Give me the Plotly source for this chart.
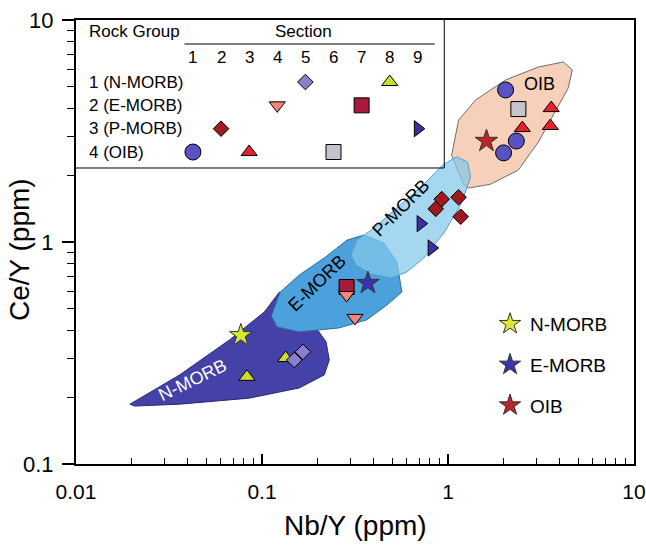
import numpy as np
import plotly.graph_objects as go

# ---------------- data (Nb/Y, Ce/Y) ----------------
# section markers
s1_nb = [2.04, 2.33, 1.99];            s1_ce = [4.84, 2.85, 2.52]          # circle
s2_nb = [0.925, 0.859, 1.14, 1.17];    s2_ce = [1.56, 1.41, 1.59, 1.30]    # dark red diamond
s3_nb = [2.51, 3.59, 3.55];            s3_ce = [3.26, 4.01, 3.33]          # red triangle
s4_nb = [0.285, 0.316];                s4_ce = [0.577, 0.455]              # pink triangle-down
s5_nb = [0.149, 0.166];                s5_ce = [0.294, 0.320]              # lavender diamond
s6_nb = [2.39];                        s6_ce = [3.97]                      # grey square
s7_nb = [0.285];                       s7_ce = [0.627]                     # crimson square
s8_nb = [0.083, 0.134];                s8_ce = [0.247, 0.300]              # yellow triangle
s9_nb = [0.713, 0.817];                s9_ce = [1.21, 0.94]                # blue triangle-right

# reference compositions (stars)
ref_names = ["N-MORB", "E-MORB", "OIB"]
ref_nb = [0.077, 0.371, 1.61]
ref_ce = [0.380, 0.653, 2.85]

# field polygons
nmorb_nb = [0.0195, 0.0361, 0.0668, 0.103, 0.124, 0.1436, 0.1905, 0.221, 0.230, 0.216, 0.1585, 0.0855, 0.0361, 0.0207]
nmorb_ce = [0.186, 0.252, 0.362, 0.484, 0.595, 0.571, 0.423, 0.355, 0.294, 0.252, 0.220, 0.198, 0.186, 0.1824]
emorb_nb = [0.1122, 0.1253, 0.1585, 0.216, 0.2864, 0.353, 0.452, 0.531, 0.565, 0.469, 0.366, 0.259, 0.1585, 0.1208]
emorb_ce = [0.464, 0.595, 0.710, 0.847, 1.02, 1.075, 0.99, 0.813, 0.595, 0.520, 0.446, 0.410, 0.394, 0.414]
pmorb_nb = [0.301, 0.324, 0.400, 0.545, 0.741, 0.935, 1.112, 1.274, 1.322, 1.183, 0.959, 0.741, 0.601, 0.499, 0.386, 0.320]
pmorb_ce = [0.874, 1.02, 1.156, 1.45, 1.82, 2.22, 2.42, 2.29, 1.96, 1.50, 1.11, 0.847, 0.733, 0.689, 0.718, 0.788]
oib_nb = [1.213, 1.046, 1.140, 1.406, 2.04, 3.06, 4.17, 4.66, 4.43, 3.82, 3.06, 2.39, 1.69, 1.29]
oib_ce = [1.82, 2.46, 3.54, 4.36, 5.37, 6.14, 6.47, 5.96, 4.94, 3.94, 2.82, 2.11, 1.82, 1.75]

# field labels
field_names = ["N-MORB", "E-MORB", "P-MORB", "OIB"]
field_lab_nb = [0.0424, 0.198, 0.557, 3.10]
field_lab_ce = [0.239, 0.653, 1.42, 5.15]
field_lab_angle = [-26, -44, -45, 0]
field_lab_color = ["white", "black", "black", "black"]

# inset table
section_labels = ["1", "2", "3", "4", "5", "6", "7", "8", "9"]
group_labels = ["1 (N-MORB)", "2 (E-MORB)", "3 (P-MORB)", "4 (OIB)"]
section_group = [4, 3, 4, 2, 1, 4, 2, 1, 3]   # rock group of sections 1..9

# axis ticks / titles
x_tickvals = [0.01, 0.1, 1, 10]; x_ticktext = ["0.01", "0.1", "1", "10"]
y_tickvals = [0.1, 1, 10];       y_ticktext = ["0.1", "1", "10"]
x_title = "Nb/Y (ppm)"
y_title = "Ce/Y (ppm)"

# ---------------- styles ----------------
FONT = "Liberation Sans, Arial, sans-serif"
sec_symbol = ["circle", "diamond", "triangle-up", "triangle-down", "diamond",
              "square", "square", "triangle-up", "triangle-right"]
sec_color = ["#5b52c2", "#9e1a1e", "#e8202a", "#f4847c", "#8c7dc9",
             "#c4c5cc", "#a8193a", "#cbdc2a", "#3b30a2"]
sec_size = [16, 12, 14, 14, 12, 15, 15, 14, 14]
star_color = ["#d9e832", "#3a34aa", "#b82828"]

sec_nb = [s1_nb, s2_nb, s3_nb, s4_nb, s5_nb, s6_nb, s7_nb, s8_nb, s9_nb]
sec_ce = [s1_ce, s2_ce, s3_ce, s4_ce, s5_ce, s6_ce, s7_ce, s8_ce, s9_ce]

fig = go.Figure()

# fields
fields = [
    (oib_nb, oib_ce, "rgb(247,208,186)", "#6e6e6e"),
    (nmorb_nb, nmorb_ce, "rgb(68,66,168)", "#2a2a70"),
    (emorb_nb, emorb_ce, "rgb(76,160,220)", "#2c6fa8"),
    (pmorb_nb, pmorb_ce, "rgba(131,199,236,0.72)", "#5aa0cc"),
]
for fx, fy, fc, lc in fields:
    fig.add_trace(go.Scatter(x=fx + fx[:1], y=fy + fy[:1], mode="lines", fill="toself",
                             fillcolor=fc, line=dict(color=lc, width=1),
                             hoverinfo="skip", showlegend=False))

# sample points
order = [8, 5, 7, 4, 2, 9, 3, 1, 6]
for s in order:
    i = s - 1
    fig.add_trace(go.Scatter(x=sec_nb[i], y=sec_ce[i], mode="markers", showlegend=False,
                             marker=dict(symbol=sec_symbol[i], color=sec_color[i], size=sec_size[i],
                                         line=dict(color="black", width=1))))

# reference stars
for k in range(3):
    fig.add_trace(go.Scatter(x=[ref_nb[k]], y=[ref_ce[k]], mode="markers", name=ref_names[k],
                             legendgroup=ref_names[k],
                             marker=dict(symbol="star", color=star_color[k], size=17,
                                         line=dict(color="#333333", width=1))))

# inset table markers
for s in range(1, 10):
    i = s - 1
    fig.add_trace(go.Scatter(x=[s], y=[section_group[i]], xaxis="x2", yaxis="y2", mode="markers",
                             showlegend=False, hoverinfo="skip",
                             marker=dict(symbol=sec_symbol[i], color=sec_color[i], size=sec_size[i],
                                         line=dict(color="black", width=1))))

annotations = []
for k in range(4):
    annotations.append(dict(x=np.log10(field_lab_nb[k]), y=np.log10(field_lab_ce[k]), xref="x", yref="y",
                            text=field_names[k], showarrow=False, textangle=field_lab_angle[k],
                            font=dict(family=FONT, size=18, color=field_lab_color[k])))
# axis titles
annotations.append(dict(x=0.5, y=0, xref="paper", yref="paper", yshift=-61, text=x_title,
                        showarrow=False, yanchor="middle", font=dict(family=FONT, size=28, color="black")))
annotations.append(dict(x=0, y=0.5, xref="paper", yref="paper", xshift=-57, yshift=-8, text=y_title,
                        textangle=-90, showarrow=False, xanchor="center",
                        font=dict(family=FONT, size=28, color="black")))
# inset header
annotations.append(dict(x=-2.77, y=-1.15, xref="x2", yref="y2", text="Rock Group", showarrow=False,
                        xanchor="left", font=dict(family=FONT, size=17, color="black")))
annotations.append(dict(x=4.93, y=-1.15, xref="x2", yref="y2", text="Section", showarrow=False,
                        font=dict(family=FONT, size=17, color="black")))
for s in range(1, 10):
    annotations.append(dict(x=s, y=-0.03, xref="x2", yref="y2", text=section_labels[s - 1], showarrow=False,
                            font=dict(family=FONT, size=17, color="black")))
for g in range(1, 5):
    annotations.append(dict(x=-2.77, y=g, xref="x2", yref="y2", text=group_labels[g - 1], showarrow=False,
                            xanchor="left", font=dict(family=FONT, size=17, color="black")))

shapes = [
    dict(type="line", xref="x2", yref="y2", x0=0.7, x1=9.6, y0=-0.63, y1=-0.63,
         line=dict(color="black", width=1)),
    dict(type="line", xref="paper", yref="paper", x0=0.66, x1=0.66, y0=0.6667, y1=1,
         line=dict(color="black", width=1)),
    dict(type="line", xref="paper", yref="paper", x0=0, x1=0.66, y0=0.6667, y1=0.6667,
         line=dict(color="black", width=1)),
]

minor_x = [m * 10.0 ** e for e in (-2, -1, 0) for m in range(2, 10)]
minor_y = [m * 10.0 ** e for e in (-1, 0) for m in range(2, 10)]

fig.update_layout(
    width=646, height=547,
    margin=dict(l=76, r=12, t=20, b=83, autoexpand=False),
    paper_bgcolor="white", plot_bgcolor="white",
    font=dict(family=FONT, color="black"),
    xaxis=dict(type="log", range=[-2, 1], showgrid=False, zeroline=False, automargin=False,
               showline=True, linewidth=2, linecolor="black", mirror=True,
               tickmode="array", tickvals=x_tickvals, ticktext=x_ticktext,
               ticks="inside", ticklen=10, tickwidth=1.5, tickcolor="black",
               minor=dict(tickmode="array", tickvals=minor_x, ticks="inside", ticklen=6,
                          tickwidth=1, tickcolor="black", showgrid=False),
               tickfont=dict(size=21), ticklabelstandoff=8, ticklabeloverflow="allow"),
    yaxis=dict(type="log", range=[-1, 1], showgrid=False, zeroline=False, automargin=False,
               showline=True, linewidth=2, linecolor="black", mirror=True,
               tickmode="array", tickvals=y_tickvals, ticktext=y_ticktext,
               ticks="outside", ticklen=12, tickwidth=1.5, tickcolor="black",
               minor=dict(tickmode="array", tickvals=minor_y, ticks="outside", ticklen=7,
                          tickwidth=1, tickcolor="black", showgrid=False),
               tickfont=dict(size=22), ticklabelstandoff=4, ticklabeloverflow="allow"),
    xaxis2=dict(domain=[0.0, 0.652], range=[-3.16, 9.782], anchor="y2", visible=False, fixedrange=True),
    yaxis2=dict(domain=[0.6734, 0.9887], range=[4.557, -1.443], anchor="x2", visible=False, fixedrange=True),
    legend=dict(x=0.742, y=0.358, xanchor="left", yanchor="top", font=dict(size=19, family=FONT),
                bgcolor="rgba(0,0,0,0)", tracegroupgap=13, itemclick=False),
    annotations=annotations,
    shapes=shapes,
)

fig.write_html("out.html", config={"displayModeBar": False},
               post_script="document.body.style.margin='0px';")
